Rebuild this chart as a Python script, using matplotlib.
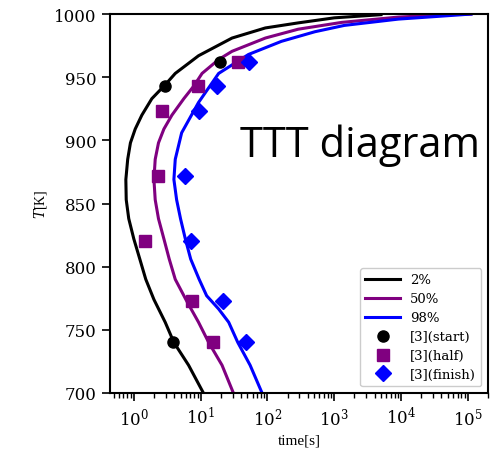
import matplotlib
matplotlib.use("Agg")
import matplotlib.pyplot as plt

# 2% transformation curve (temperature [K], time [s])
T_2 = [700, 722, 740, 756, 774, 790, 806, 822, 838, 853, 869, 885, 898, 909, 920,
       933, 944, 953, 961, 967, 981, 989, 993, 997, 999.5]
t_2 = [11.0, 6.6, 3.98, 2.95, 2.0, 1.51, 1.23, 1.0, 0.84, 0.77, 0.76, 0.81, 0.89, 1.05, 1.32,
       1.86, 2.95, 4.17, 6.6, 9.3, 29.5, 93, 288, 1000, 5000]
# 50% curve
T_50 = [700, 722, 740, 756, 772, 790, 806, 822, 838, 853, 869, 885, 898, 909, 920,
        933, 943, 953, 964, 970.5, 981, 988, 993.4, 997.6, 999.5, 1000]
t_50 = [30.9, 20.9, 13.2, 9.3, 6.3, 4.17, 3.39, 2.82, 2.34, 2.09, 2.0, 2.09, 2.34, 2.82, 3.72,
        5.6, 7.9, 10.5, 18.6, 29.5, 93, 288, 1290, 9100, 50000, 110000]
# 98% curve
T_98 = [700, 722, 740, 756, 766.5, 777, 790, 806, 822, 838, 853, 869, 885, 906, 930,
        953, 968, 978.4, 986, 991, 996, 998.7, 1000]
t_98 = [83, 55, 36, 26.3, 18.6, 12.3, 9.5, 7.1, 5.9, 5.0, 4.37, 3.98, 4.17, 5.2, 9.3,
        18.6, 52, 162, 513, 1410, 9100, 50000, 112000]

# experimental data [3]
start_t = [2.95, 19.5, 3.9]
start_T = [943, 962, 740]
half_t = [2.6, 9.0, 36, 2.3, 1.45, 7.4, 15.2]
half_T = [923, 943, 962, 872, 820, 773, 740]
finish_t = [9.5, 17.5, 53, 5.8, 7.2, 21.3, 47.5]
finish_T = [923, 943, 962, 872, 820, 773, 740]

plt.rcParams['font.family'] = ['DejaVu Serif']
plt.rcParams['mathtext.fontset'] = 'dejavuserif'

fig = plt.figure(figsize=(4.91, 4.56), dpi=100)
ax = fig.add_axes([0.224, 0.136, 0.770, 0.831])

ax.plot(t_2, T_2, color='black', lw=2.2, label='2%')
ax.plot(t_50, T_50, color='purple', lw=2.2, label='50%')
ax.plot(t_98, T_98, color='blue', lw=2.2, label='98%')
ax.plot(start_t, start_T, 'o', color='black', ms=8, ls='none', label='[3](start)')
ax.plot(half_t, half_T, 's', color='purple', ms=8, ls='none', label='[3](half)')
ax.plot(finish_t, finish_T, 'D', color='blue', ms=8, ls='none', label='[3](finish)')

ax.set_xscale('log')
ax.set_xlim(0.44, 2.0e5)
ax.set_ylim(700, 1000)
ax.set_yticks([700, 750, 800, 850, 900, 950, 1000])
ax.tick_params(axis='both', which='major', labelsize=12, length=6, width=1.2)
ax.tick_params(axis='x', which='minor', length=3.5, width=1.0)
for s in ax.spines.values():
    s.set_linewidth(1.5)

ax.set_xlabel('time[s]', fontsize=11, family='Liberation Serif')
ax.set_ylabel('$T$[K]', fontsize=10, family='Liberation Serif')

leg = ax.legend(loc='lower right', fontsize=9.5, handlelength=2.6,
                labelspacing=0.45, borderaxespad=0.5, framealpha=1)
leg.get_frame().set_edgecolor('#cccccc')

fig.text(0.488, 0.655, 'TTT diagram', fontsize=30, family='Open Sans',
         ha='left', va='baseline')

fig.savefig('out.png', dpi=100)
